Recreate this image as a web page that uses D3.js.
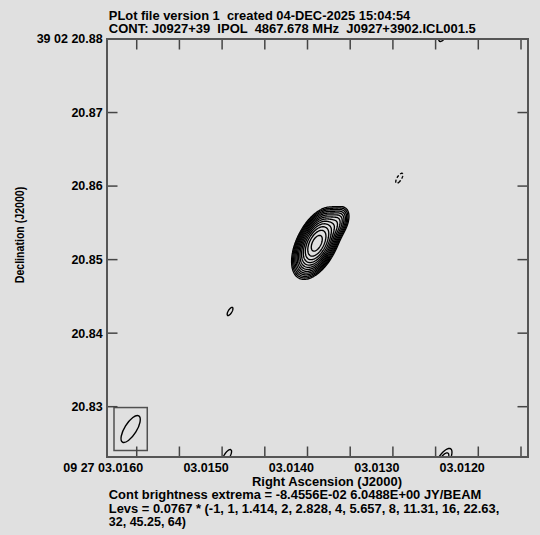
<!DOCTYPE html>
<html><head><meta charset="utf-8">
<script src="https://cdn.jsdelivr.net/npm/d3@7"></script>
<style>
html,body{margin:0;padding:0;background:#e0e0e0;}
svg{display:block;}
text{font-family:"Liberation Sans",Arial,Helvetica,sans-serif;font-weight:bold;fill:#000;white-space:pre;}
</style></head><body>
<svg id="chart" width="540" height="535"></svg>
<script>
// ---------------- data ----------------
const titleLines = ["PLot file version 1  created 04-DEC-2025 15:04:54",
                    "CONT: J0927+39  IPOL  4867.678 MHz  J0927+3902.ICL001.5"];
const footerLines = ["Cont brightness extrema = -8.4556E-02 6.0488E+00 JY/BEAM",
                     "Levs = 0.0767 * (-1, 1, 1.414, 2, 2.828, 4, 5.657, 8, 11.31, 16, 22.63,",
                     "32, 45.25, 64)"];
const xAxisTitle = "Right Ascension (J2000)";
const yAxisTitle = "Declination (J2000)";

// RA: fractional seconds of 09 27 03.xxxx ; Dec: arcsec of 39 02 xx.xxx
const raDomain  = [0.016348, 0.011418];
const decDomain = [20.82316, 20.88];
const raTicks   = [0.0160, 0.0155, 0.0150, 0.0145, 0.0140, 0.0135, 0.0130, 0.0125, 0.0120, 0.0115];
const raLabelValues = [0.0160, 0.0150, 0.0140, 0.0130, 0.0120];
const raLabelTexts  = ["09 27 03.0160", "03.0150", "03.0140", "03.0130", "03.0120"];
const decTicks      = [20.88, 20.87, 20.86, 20.85, 20.84, 20.83];
const decLabelTexts = ["39 02 20.88", "20.87", "20.86", "20.85", "20.84", "20.83"];
const decDegrees = 39.0391;

// contour levels
const levelBase = 0.0767;
const levelMultipliers = [-1, 1, 1.414, 2, 2.828, 4, 5.657, 8, 11.31, 16, 22.63, 32, 45.25, 64];

// brightness model: Gaussian components (Jy/beam, mas, deg)
const compRa   = [0.013892, 0.013665, 0.012925, 0.014907, 0.012402, 0.014943, 0.012413];
const compDec  = [20.85222, 20.85480, 20.86106, 20.84295, 20.88068, 20.82330, 20.82262];
const compPeak = [6.04,     0.60,     -0.0846,  0.082,    0.095,    0.090,    0.140];
const compMaj  = [4.25,     2.9,      4.2,      4.2,      4.2,      4.2,      4.2];
const compMin  = [2.17,     1.6,      1.63,     1.63,     1.63,     1.63,     1.63];
const compPa   = [-27,      -30,      -32,      -32,      -32,      -32,      -32];

// restoring beam
const beamMaj = 4.2, beamMin = 1.63, beamPa = -32;

// ---------------- layout ----------------
const L = 107, T = 39, R = 528, B = 457;
const svg = d3.select("#chart");
svg.append("rect").attr("width", 540).attr("height", 535).attr("fill", "#e0e0e0");

const x = d3.scaleLinear().domain(raDomain).range([L, R]);
const y = d3.scaleLinear().domain(decDomain).range([B, T]);

svg.append("clipPath").attr("id", "plotclip")
  .append("rect").attr("x", L).attr("y", T).attr("width", R - L).attr("height", B - T);

// ---------------- model grid ----------------
const cosDec = Math.cos(decDegrees * Math.PI / 180);
const k4 = 4 * Math.LN2;
function model(ra, dec) {
  let s = 0;
  for (let c = 0; c < compRa.length; c++) {
    const e = (ra - compRa[c]) * 15 * cosDec * 1000;
    const n = (dec - compDec[c]) * 1000;
    const p = compPa[c] * Math.PI / 180;
    const u = e * Math.sin(p) + n * Math.cos(p);
    const v = e * Math.cos(p) - n * Math.sin(p);
    s += compPeak[c] * Math.exp(-k4 * (u * u / (compMaj[c] * compMaj[c]) + v * v / (compMin[c] * compMin[c])));
  }
  return s;
}
const pad = 25;
const x0 = L - pad, y0 = T - pad;
const nx = (R - L) + 2 * pad, ny = (B - T) + 2 * pad;
const values = new Float64Array(nx * ny);
for (let j = 0; j < ny; j++) {
  const dec = y.invert(y0 + j + 0.5);
  for (let i = 0; i < nx; i++) {
    values[j * nx + i] = model(x.invert(x0 + i + 0.5), dec);
  }
}
const posLevels = levelMultipliers.filter(m => m > 0).map(m => m * levelBase);
const negLevels = levelMultipliers.filter(m => m < 0).map(m => -m * levelBase);

const path = d3.geoPath(d3.geoTransform({
  point(px, py) { this.stream.point(x0 + px, y0 + py); }
}));

const gC = svg.append("g").attr("clip-path", "url(#plotclip)");
const posC = d3.contours().size([nx, ny]).thresholds(posLevels)(Array.from(values));
gC.selectAll("path.pos").data(posC).join("path")
  .attr("class", "pos").attr("d", path)
  .attr("fill", "none").attr("stroke", "#000").attr("stroke-width", 1.35);
const negC = d3.contours().size([nx, ny]).thresholds(negLevels)(Array.from(values, v => -v));
gC.selectAll("path.neg").data(negC).join("path")
  .attr("class", "neg").attr("d", path)
  .attr("fill", "none").attr("stroke", "#000").attr("stroke-width", 1.35)
  .attr("stroke-dasharray", "3,2");

// ---------------- beam ----------------
const pxPerMas = Math.abs(y(20.85) - y(20.86)) / 10;
const ry = beamMaj / 2 * pxPerMas, rx = beamMin / 2 * pxPerMas;
const th = -beamPa * Math.PI / 180;
const halfW = Math.sqrt(ry * ry * Math.sin(th) ** 2 + rx * rx * Math.cos(th) ** 2);
const halfH = Math.sqrt(ry * ry * Math.cos(th) ** 2 + rx * rx * Math.sin(th) ** 2);
const boxW = 2 * halfW + 14, boxH = 2 * halfH + 16;
const boxX = L + 7, boxY = B - 6.5 - boxH;
svg.append("rect").attr("x", boxX).attr("y", boxY).attr("width", boxW).attr("height", boxH)
  .attr("fill", "none").attr("stroke", "#505050").attr("stroke-width", 1.5);
svg.append("ellipse").attr("cx", 0).attr("cy", 0).attr("rx", rx).attr("ry", ry)
  .attr("transform", `translate(${boxX + boxW / 2},${boxY + boxH / 2}) rotate(${-beamPa})`)
  .attr("fill", "none").attr("stroke", "#000").attr("stroke-width", 1.4);

// ---------------- frame & ticks ----------------
const tickLen = 10.5;
const gT = svg.append("g").attr("stroke", "#454545").attr("stroke-width", 1.5);
raTicks.forEach(v => {
  gT.append("line").attr("x1", x(v)).attr("x2", x(v)).attr("y1", B).attr("y2", B - tickLen);
  gT.append("line").attr("x1", x(v)).attr("x2", x(v)).attr("y1", T).attr("y2", T + tickLen);
});
decTicks.forEach(v => {
  gT.append("line").attr("x1", L).attr("x2", L + tickLen).attr("y1", y(v)).attr("y2", y(v));
  gT.append("line").attr("x1", R).attr("x2", R - tickLen).attr("y1", y(v)).attr("y2", y(v));
});
svg.append("rect").attr("x", L).attr("y", T).attr("width", R - L).attr("height", B - T)
  .attr("fill", "none").attr("stroke", "#555").attr("stroke-width", 2);

// ---------------- text ----------------
const fs = 12.5;
function txt(s, xx, yy, anchor, len) {
  const t = svg.append("text").attr("x", xx).attr("y", yy).attr("font-size", fs)
    .attr("xml:space", "preserve")
    .attr("text-anchor", anchor || "start").text(s);
  if (len) t.attr("textLength", len).attr("lengthAdjust", "spacingAndGlyphs");
  return t;
}
txt(titleLines[0], 108.8, 19.6, "start", 301.5);
txt(titleLines[1], 108.8, 33.0, "start", 367);
raLabelValues.forEach((v, i) => txt(raLabelTexts[i], x(v) + 6.5, 471.5, "end"));
decTicks.forEach((v, i) => txt(decLabelTexts[i], 102.7, y(v) + 4.4, "end"));
txt(xAxisTitle, (L + R) / 2 + 9.5, 485.5, "middle", 150);
svg.append("text").attr("font-size", fs).attr("text-anchor", "middle")
  .attr("transform", "translate(24,235) rotate(-90)")
  .attr("textLength", 96.5).attr("lengthAdjust", "spacingAndGlyphs")
  .text(yAxisTitle);
txt(footerLines[0], 108.8, 498.9, "start", 372.5);
txt(footerLines[1], 108.8, 512.6, "start", 390.5);
txt(footerLines[2], 108.8, 526.3, "start");
</script>
</body></html>
